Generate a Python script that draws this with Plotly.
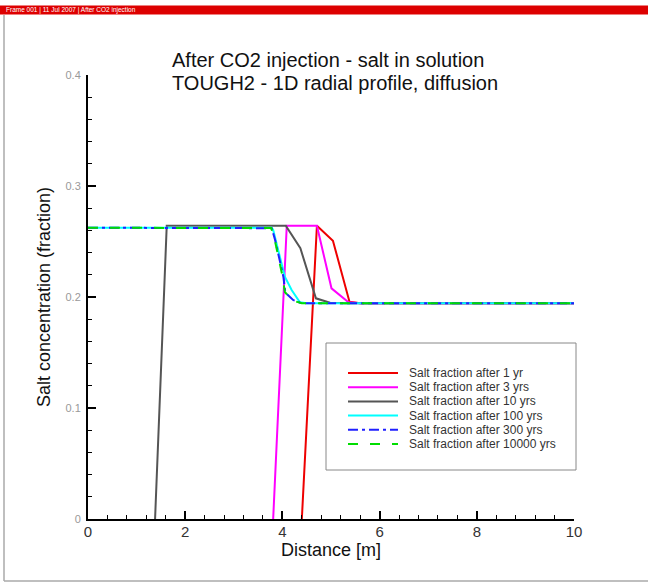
import plotly.graph_objects as go

# Radial salt profiles (distance in m, salt mass fraction)
dist_1yr = [4.40, 4.71, 5.04, 5.38, 5.60, 10.0]
salt_1yr = [0.0, 0.2642, 0.2507, 0.1958, 0.1943, 0.1943]

dist_3yr = [3.81, 4.09, 4.71, 5.01, 5.36, 5.60, 10.0]
salt_3yr = [0.0, 0.2642, 0.2642, 0.2078, 0.1952, 0.1943, 0.1943]

dist_10yr = [1.38, 1.62, 4.07, 4.37, 4.69, 4.98, 5.30, 10.0]
salt_10yr = [0.0, 0.2642, 0.2642, 0.2439, 0.1988, 0.1949, 0.1943, 0.1943]

dist_100yr = [0.0, 3.78, 3.81, 3.95, 4.05, 4.19, 4.36, 4.50, 10.0]
salt_100yr = [0.2624, 0.2624, 0.2604, 0.2349, 0.2183, 0.2063, 0.1952, 0.1943, 0.1943]

dist_300yr = [0.0, 3.78, 3.85, 4.02, 4.06, 4.22, 4.40, 10.0]
salt_300yr = [0.2624, 0.2620, 0.2514, 0.2183, 0.2040, 0.1973, 0.1943, 0.1943]

dist_10000yr = [0.0, 3.77, 3.84, 4.00, 4.05, 4.20, 4.40, 10.0]
salt_10000yr = [0.2624, 0.2621, 0.2520, 0.2190, 0.2045, 0.1970, 0.1943, 0.1943]

series_names = [
    "Salt fraction after 1 yr",
    "Salt fraction after 3 yrs",
    "Salt fraction after 10 yrs",
    "Salt fraction after 100 yrs",
    "Salt fraction after 300 yrs",
    "Salt fraction after 10000 yrs",
]
series_x = [dist_1yr, dist_3yr, dist_10yr, dist_100yr, dist_300yr, dist_10000yr]
series_y = [salt_1yr, salt_3yr, salt_10yr, salt_100yr, salt_300yr, salt_10000yr]
series_colors = ["#ee0000", "#ff00ff", "#555555", "#00ffff", "#2020ff", "#00dd00"]
series_dash = ["solid", "solid", "solid", "solid", "10px,4px,3px,4px", "10px,12px"]

x_ticks = [0, 2, 4, 6, 8, 10]
y_ticks = [0, 0.1, 0.2, 0.3, 0.4]

W, H = 648, 584
L, R, T, B = 88, 574, 75, 519  # plot area edges in pixels


def px(x):
    return (x - L) / (R - L)


def py(y):
    return (B - y) / (B - T)


fig = go.Figure()
for name, xs, ys, col, dash in zip(series_names, series_x, series_y, series_colors, series_dash):
    fig.add_trace(go.Scatter(
        x=xs, y=ys, mode="lines", name=name, showlegend=False,
        line=dict(color=col, width=2, dash=dash),
    ))

shapes = []
annotations = []

# header bar
shapes.append(dict(type="rect", xref="paper", yref="paper",
                   x0=px(0), x1=px(W), y0=py(14), y1=py(5.5),
                   fillcolor="#dd0000", line=dict(width=0), layer="above"))
shapes.append(dict(type="line", xref="paper", yref="paper",
                   x0=px(0), x1=px(W), y0=py(14.5), y1=py(14.5),
                   line=dict(color="#f08080", width=1)))
annotations.append(dict(text="Frame 001 | 11 Jul 2007 | After CO2 injection",
                        xref="paper", yref="paper", x=px(4), y=py(10),
                        xanchor="left", yanchor="middle", showarrow=False,
                        font=dict(size=6.5, color="white")))

# frame border
shapes.append(dict(type="line", xref="paper", yref="paper",
                   x0=px(4), x1=px(4), y0=py(15), y1=py(581),
                   line=dict(color="#aaaaaa", width=1.5)))
shapes.append(dict(type="line", xref="paper", yref="paper",
                   x0=px(4), x1=px(W), y0=py(581), y1=py(581),
                   line=dict(color="#aaaaaa", width=1.5)))

# title (two lines)
annotations.append(dict(text="After CO2 injection - salt in solution",
                        xref="paper", yref="paper", x=px(170), y=py(60),
                        xanchor="left", yanchor="middle", showarrow=False,
                        font=dict(size=20, color="#111111")))
annotations.append(dict(text="TOUGH2 - 1D radial profile, diffusion",
                        xref="paper", yref="paper", x=px(170), y=py(83.5),
                        xanchor="left", yanchor="middle", showarrow=False,
                        font=dict(size=20, color="#111111")))

# axis titles
annotations.append(dict(text="Distance [m]", xref="paper", yref="paper",
                        x=px(331), y=py(550), xanchor="center", yanchor="middle",
                        showarrow=False, font=dict(size=18, color="#111111")))
annotations.append(dict(text="Salt concentration (fraction)", xref="paper", yref="paper",
                        x=px(44), y=py(297), xanchor="center", yanchor="middle",
                        textangle=-90, showarrow=False,
                        font=dict(size=18, color="#111111")))

# legend box
shapes.append(dict(type="rect", xref="paper", yref="paper",
                   x0=px(326), x1=px(576), y0=py(470), y1=py(343),
                   fillcolor="white", line=dict(color="#888888", width=1)))
for i, (name, col, dash) in enumerate(zip(series_names, series_colors, series_dash)):
    yy = 373 + 14.2 * i
    shapes.append(dict(type="line", xref="paper", yref="paper",
                       x0=px(348), x1=px(398), y0=py(yy), y1=py(yy),
                       line=dict(color=col, width=2, dash=dash)))
    annotations.append(dict(text=name, xref="paper", yref="paper",
                            x=px(407), y=py(yy), xanchor="left", yanchor="middle",
                            showarrow=False, font=dict(size=12, color="#333333")))

fig.update_layout(
    width=W, height=H,
    margin=dict(l=L, r=W - R, t=T, b=H - B),
    paper_bgcolor="white", plot_bgcolor="white",
    font=dict(family="Liberation Sans, Arial, sans-serif"),
    shapes=shapes, annotations=annotations,
    xaxis=dict(
        range=[0, 10], tickvals=x_ticks, ticktext=[str(v) for v in x_ticks],
        ticks="inside", ticklen=8, tickwidth=2, tickcolor="black",
        showline=True, linecolor="black", linewidth=2, showgrid=False, zeroline=False,
        tickfont=dict(size=15, color="#333333"), ticklabelstandoff=-2,
        minor=dict(dtick=0.4, tick0=0, ticks="inside", ticklen=4, tickwidth=1, tickcolor="black"),
    ),
    yaxis=dict(
        range=[0, 0.4], tickvals=y_ticks, ticktext=["0", "0.1", "0.2", "0.3", "0.4"],
        ticks="inside", ticklen=8, tickwidth=2, tickcolor="black",
        showline=True, linecolor="black", linewidth=2, showgrid=False, zeroline=False,
        tickfont=dict(size=11, color="#999999"), ticklabelstandoff=3,
        minor=dict(dtick=0.02, tick0=0, ticks="inside", ticklen=4, tickwidth=1, tickcolor="black"),
    ),
)

fig.write_html("out.html")
